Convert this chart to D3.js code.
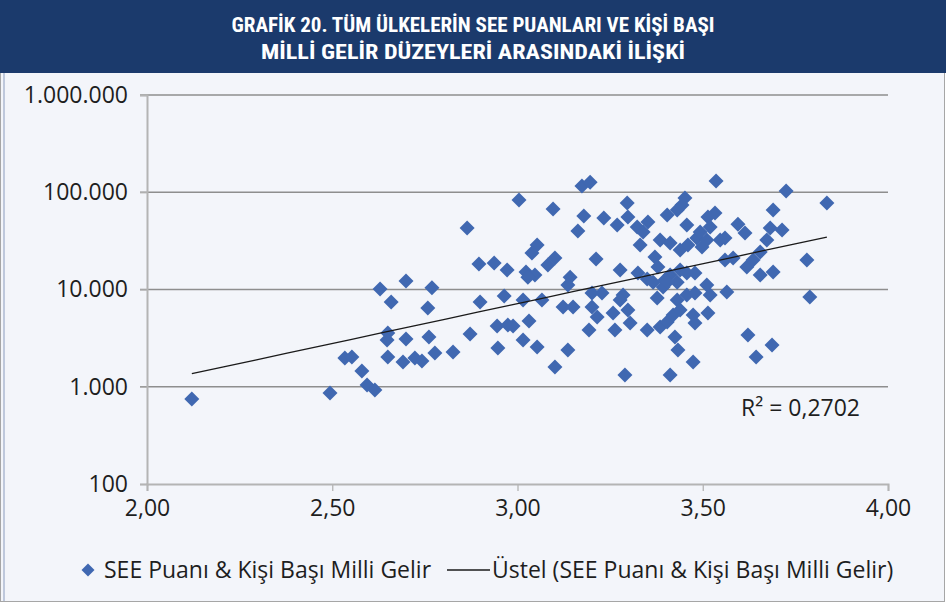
<!DOCTYPE html>
<html>
<head>
<meta charset="utf-8">
<script src="https://cdn.jsdelivr.net/npm/d3@7"></script>
<style>
  body { margin: 0; background: #ffffff; }
  svg { display: block; }
</style>
</head>
<body>
<svg id="chart" width="946" height="605"></svg>
<script>
// SEE score (x) vs per capita national income (y), all countries

const TITLE_LINES = ["GRAFİK 20. TÜM ÜLKELERİN SEE PUANLARI VE KİŞİ BAŞI", "MİLLİ GELİR DÜZEYLERİ ARASINDAKİ İLİŞKİ"];
const SERIES_NAME = "SEE Puanı & Kişi Başı Milli Gelir";
const TREND_NAME = "Üstel (SEE Puanı & Kişi Başı Milli Gelir)";
const R2_LABEL = "R² = 0,2702";

const X_TICKS = [2.0, 2.5, 3.0, 3.5, 4.0];
const Y_TICKS = [100, 1000, 10000, 100000, 1000000];

// SEE puanı
const seeScore = [
  2.121, 2.494, 2.534, 2.553, 2.580, 2.594, 2.615, 2.629, 2.659, 2.699,
  2.769, 2.758, 2.650, 2.648, 2.699, 2.761, 2.650, 2.691, 2.723, 2.742,
  2.777, 2.826, 2.864, 2.896, 2.937, 2.972, 2.899, 2.964, 2.872, 2.945,
  2.974, 2.988, 2.947, 3.004, 3.096, 3.174, 3.196, 3.179, 3.163, 3.233,
  3.053, 3.039, 3.101, 3.082, 3.212, 3.023, 3.047, 3.028, 3.142, 3.136,
  3.015, 3.066, 3.123, 3.150, 3.201, 3.201, 3.215, 3.031, 3.015, 3.053,
  3.136, 3.101, 3.193, 3.296, 3.269, 3.298, 3.323, 3.352, 3.339, 3.331,
  3.404, 3.431, 3.452, 3.444, 3.457, 3.385, 3.412, 3.439, 3.460, 3.484,
  3.493, 3.514, 3.533, 3.520, 3.511, 3.498, 3.547, 3.560, 3.595, 3.614,
  3.371, 3.379, 3.277, 3.325, 3.350, 3.412, 3.398, 3.439, 3.457, 3.479,
  3.431, 3.393, 3.560, 3.582, 3.619, 3.636, 3.655, 3.655, 3.690, 3.536,
  3.725, 3.835, 3.690, 3.682, 3.714, 3.673, 3.781, 3.789, 3.228, 3.285,
  3.277, 3.298, 3.258, 3.263, 3.304, 3.350, 3.377, 3.431, 3.457, 3.479,
  3.511, 3.520, 3.565, 3.385, 3.404, 3.420, 3.439, 3.474, 3.479, 3.514,
  3.425, 3.433, 3.474, 3.290, 3.412, 3.622, 3.687, 3.644, 3.366, 3.404
];

// Kişi başı milli gelir
const income = [
  750, 863, 1980, 2020, 1450, 1040, 926, 10100, 7430, 12200,
  10400, 6450, 3570, 3030, 3100, 3250, 2020, 1800, 1980, 1840,
  2220, 2280, 42900, 18300, 18700, 15900, 7430, 8570, 3490, 4210,
  4310, 4210, 2500, 83200, 67300, 116000, 127000, 57000, 40000, 54300,
  28700, 23700, 21100, 17900, 20600, 15100, 14100, 13400, 13400, 11100,
  7800, 7800, 6600, 6600, 9200, 6600, 5210, 4740, 3030, 2560,
  2390, 1600, 3830, 77500, 46000, 55700, 43900, 49400, 39000, 28700,
  58400, 65700, 87300, 73900, 46000, 32300, 30100, 25500, 28700, 33900,
  39000, 55700, 61200, 43900, 32300, 27400, 32300, 33900, 47000, 38000,
  21600, 17000, 15900, 14800, 12800, 14100, 12500, 15900, 14800, 14800,
  11900, 10600, 20100, 21100, 17000, 20100, 24300, 14100, 15100, 130500,
  103000, 77500, 65700, 42900, 40900, 32300, 20100, 8370, 9200, 8780,
  7800, 6150, 5730, 3830, 4530, 3830, 8180, 7800, 8780, 9200,
  11100, 8780, 9420, 4120, 4630, 5470, 6150, 5470, 4530, 5730,
  3250, 2390, 1800, 1320, 1320, 3410, 2690, 2020, 11900, 11900
];

const W = 946, H = 605;
const margin = { left: 147, right: 58, top: 95, bottom: 121 };
const BLUE = "#4068b1";
const FONT = "'Open Sans', 'Noto Sans', sans-serif";
const FONT_SIZE = 23;
const TEXT_COLOR = "#1e1e1e";

function diamond(size)
{
  return "M0," + (-size) + "L" + size + ",0L0," + size + "L" + (-size) + ",0Z";
}

// exponential trendline, least squares on ln(y)
function fitExponential(xs, ys)
{
  let n = xs.length;
  let lx = d3.mean(xs);
  let ly = d3.mean(ys, y => Math.log(y));
  let sxy = 0, sxx = 0;
  for (let i = 0; i < n; i++)
  {
    sxy += (xs[i] - lx) * (Math.log(ys[i]) - ly);
    sxx += (xs[i] - lx) * (xs[i] - lx);
  }
  let b = sxy / sxx;
  let a = Math.exp(ly - b * lx);
  return { a: a, b: b };
}

window.onload = function ()
{
  let svg = d3.select("#chart");
  let fmtY = d3.format(",d");
  let trFmt = s => fmtY(s).replace(/,/g, ".");

  // chart background + frame
  svg.append("rect").attr("x", 0.5).attr("y", 0.5).attr("width", W - 2).attr("height", H - 4)
    .attr("fill", "#f3f5fa").attr("stroke", "#a6a6a6");
  svg.append("line").attr("x1", 4).attr("x2", 4).attr("y1", 73).attr("y2", H - 4)
    .attr("stroke", "#8a9bbd").attr("stroke-width", 1);

  // title band
  svg.append("rect").attr("x", 0).attr("y", 0).attr("width", W).attr("height", 73).attr("fill", "#1b3a6c");
  let titleWidths = [483, 424];
  TITLE_LINES.forEach(function (t, i)
  {
    svg.append("text")
      .attr("x", W / 2).attr("y", 32 + i * 27)
      .attr("text-anchor", "middle")
      .attr("fill", "#ffffff")
      .attr("font-family", "'Liberation Sans Narrow', 'Roboto Condensed', 'Open Sans', sans-serif")
      .attr("font-weight", "bold")
      .attr("font-size", 21)
      .attr("textLength", titleWidths[i])
      .attr("lengthAdjust", "spacingAndGlyphs")
      .text(t);
  });

  let x = d3.scaleLinear().domain([2, 4]).range([margin.left, W - margin.right]);
  let y = d3.scaleLog().domain([100, 1000000]).range([H - margin.bottom, margin.top]);

  // grid lines
  svg.append("g")
    .selectAll("line")
    .data(Y_TICKS.slice(1))
    .join("line")
    .attr("x1", margin.left - 7).attr("x2", W - margin.right)
    .attr("y1", d => y(d)).attr("y2", d => y(d))
    .attr("stroke", "#8e8e8e").attr("stroke-width", 1.3);

  // y axis
  let yAxis = svg.append("g")
    .attr("transform", "translate(" + margin.left + ",0)")
    .call(d3.axisLeft(y).tickValues(Y_TICKS).tickFormat(trFmt).tickSize(7).tickPadding(12));
  yAxis.select(".domain").attr("stroke", "#b4b4b4").attr("stroke-width", 2);
  yAxis.selectAll(".tick line").attr("stroke", "#b4b4b4").attr("stroke-width", 1.3);
  yAxis.selectAll("text").attr("font-family", FONT).attr("font-size", FONT_SIZE).attr("fill", TEXT_COLOR);

  // x axis
  let xAxis = svg.append("g")
    .attr("transform", "translate(0," + (H - margin.bottom) + ")")
    .call(d3.axisBottom(x).tickValues(X_TICKS).tickFormat(d => d3.format(".2f")(d).replace(".", ",")).tickSize(7).tickPadding(9));
  xAxis.select(".domain").attr("stroke", "#b4b4b4").attr("stroke-width", 2);
  xAxis.selectAll(".tick line").attr("stroke", "#b4b4b4").attr("stroke-width", 1.3);
  xAxis.selectAll("text").attr("font-family", FONT).attr("font-size", FONT_SIZE).attr("fill", TEXT_COLOR);

  // points
  let points = seeScore.map((s, i) => ({ see: s, income: income[i] }));
  svg.append("g")
    .selectAll("path")
    .data(points)
    .join("path")
    .attr("d", diamond(7.5))
    .attr("transform", d => "translate(" + x(d.see) + "," + y(d.income) + ")")
    .attr("fill", BLUE);

  // trendline
  let fit = fitExponential(seeScore, income);
  let xr = d3.extent(seeScore);
  let trend = d3.range(0, 21).map(k => xr[0] + (xr[1] - xr[0]) * k / 20);
  svg.append("path")
    .datum(trend)
    .attr("d", d3.line().x(d => x(d)).y(d => y(fit.a * Math.exp(fit.b * d))))
    .attr("fill", "none").attr("stroke", "#1a1a1a").attr("stroke-width", 1.3);

  svg.append("text")
    .attr("x", 741).attr("y", 416)
    .attr("font-family", FONT).attr("font-size", FONT_SIZE).attr("fill", TEXT_COLOR)
    .text(R2_LABEL);

  // legend
  let leg = svg.append("g").attr("font-family", FONT).attr("font-size", FONT_SIZE).attr("fill", TEXT_COLOR);
  leg.append("path").attr("d", diamond(6.5)).attr("transform", "translate(88,570)").attr("fill", BLUE);
  leg.append("text").attr("x", 104).attr("y", 578).text(SERIES_NAME);
  leg.append("line").attr("x1", 447).attr("x2", 490).attr("y1", 570).attr("y2", 570).attr("stroke", "#1a1a1a").attr("stroke-width", 1.3);
  leg.append("text").attr("x", 492).attr("y", 578).text(TREND_NAME);
};
</script>
</body>
</html>
